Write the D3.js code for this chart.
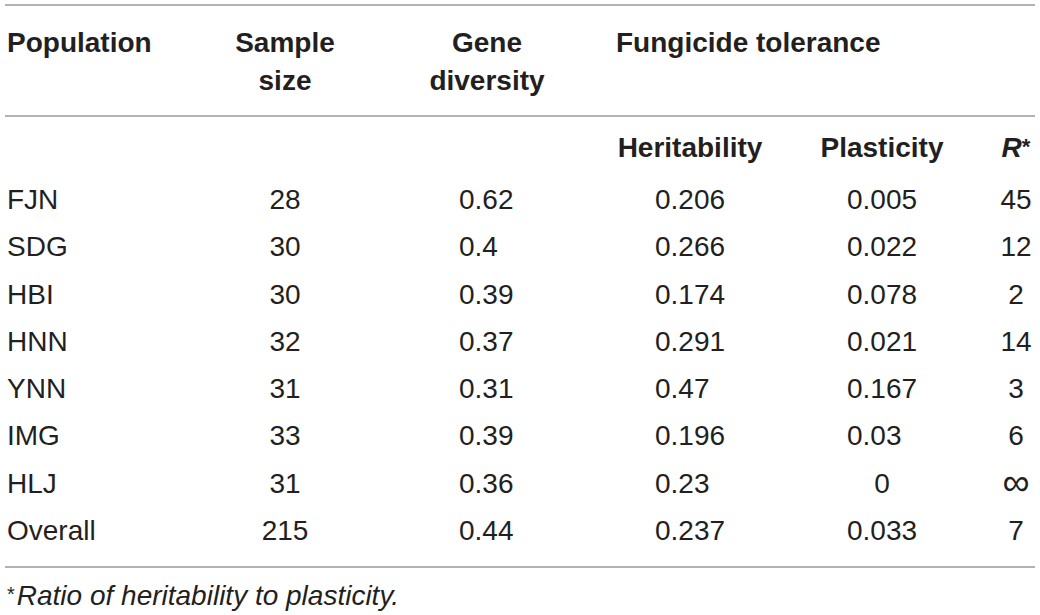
<!DOCTYPE html>
<html>
<head>
<meta charset="utf-8">
<script src="https://cdn.jsdelivr.net/npm/d3@7"></script>
<style>
  body { margin: 0; background: #fff; }
  svg { display: block; font-family: "Liberation Sans", Arial, Helvetica, sans-serif; }
</style>
</head>
<body>
<svg width="1040" height="615"></svg>
<script>
// table data
var populations = ["FJN", "SDG", "HBI", "HNN", "YNN", "IMG", "HLJ", "Overall"];
var sampleSize = [28, 30, 30, 32, 31, 33, 31, 215];
var geneDiversity = [0.62, 0.4, 0.39, 0.37, 0.31, 0.39, 0.36, 0.44];
var heritability = [0.206, 0.266, 0.174, 0.291, 0.47, 0.196, 0.23, 0.237];
var plasticity = [0.005, 0.022, 0.078, 0.021, 0.167, 0.03, 0, 0.033];
var ratio = [45, 12, 2, 14, 3, 6, Infinity, 7];

var svg = d3.select("svg"),
	width = +svg.attr("width");

var textColor = "#231f20",
	ruleColor = "#9a9a9a",
	fontSize = 28;

// rows
var y = d3.scalePoint()
	.domain(populations)
	.range([209, 540]);

// column centres / decimal anchors
var colCenter = {pop: 7, size: 285, gene: 487, her: 690, pla: 882, r: 1016};
var colLeft = {gene: 459, her: 655, pla: 847};

function fmt(v) {
	if (v === Infinity) return "\u221e";
	return String(v);
}

// rules
[5, 116, 567].forEach(function(ly) {
	svg.append("line")
		.attr("x1", 5).attr("x2", 1035)
		.attr("y1", ly).attr("y2", ly)
		.attr("stroke", ruleColor)
		.attr("stroke-width", 1.6);
});

// header
var head = svg.append("g")
	.attr("font-weight", "bold")
	.attr("font-size", fontSize)
	.attr("fill", textColor);

head.append("text").attr("x", colCenter.pop).attr("y", 52).text("Population");

var twoLine = [
	{x: colCenter.size, lines: ["Sample", "size"]},
	{x: colCenter.gene, lines: ["Gene", "diversity"]}
];
twoLine.forEach(function(h) {
	h.lines.forEach(function(t, i) {
		head.append("text")
			.attr("x", h.x)
			.attr("y", 52 + i * 38)
			.attr("text-anchor", "middle")
			.text(t);
	});
});

head.append("text").attr("x", 616).attr("y", 52).text("Fungicide tolerance");

head.append("text").attr("x", colCenter.her).attr("y", 157)
	.attr("text-anchor", "middle").text("Heritability");
head.append("text").attr("x", colCenter.pla).attr("y", 157)
	.attr("text-anchor", "middle").text("Plasticity");
var rh = head.append("text").attr("x", colCenter.r).attr("y", 157)
	.attr("text-anchor", "middle");
rh.append("tspan").attr("font-style", "italic").text("R");
rh.append("tspan").attr("font-size", 22).attr("dy", -3).text("*");

// body
var body = svg.append("g")
	.attr("font-size", fontSize)
	.attr("fill", textColor);

var rows = body.selectAll("g.row")
	.data(populations.map(function(p, i) {
		return {
			pop: p,
			size: sampleSize[i],
			gene: geneDiversity[i],
			her: heritability[i],
			pla: plasticity[i],
			r: ratio[i]
		};
	}))
	.enter().append("g")
	.attr("class", "row")
	.attr("transform", function(d) { return "translate(0," + y(d.pop) + ")"; });

rows.append("text")
	.attr("x", colCenter.pop)
	.text(function(d) { return d.pop; });

rows.append("text")
	.attr("x", colCenter.size)
	.attr("text-anchor", "middle")
	.text(function(d) { return fmt(d.size); });

["gene", "her", "pla"].forEach(function(key) {
	rows.append("text")
		.attr("x", function(d) {
			return fmt(d[key]).indexOf(".") >= 0 ? colLeft[key] : colCenter[key];
		})
		.attr("text-anchor", function(d) {
			return fmt(d[key]).indexOf(".") >= 0 ? "start" : "middle";
		})
		.text(function(d) { return fmt(d[key]); });
});

rows.append("text")
	.attr("x", colCenter.r)
	.attr("text-anchor", "middle")
	.attr("font-size", function(d) { return d.r === Infinity ? 38 : null; })
	.attr("dy", function(d) { return d.r === Infinity ? 2 : null; })
	.text(function(d) { return fmt(d.r); });

// footnote
var foot = svg.append("text")
	.attr("x", 7)
	.attr("y", 605)
	.attr("font-size", fontSize)
	.attr("fill", textColor);
foot.append("tspan").attr("font-size", 20).attr("dy", -4).text("*");
foot.append("tspan").attr("dy", 4).attr("dx", 2)
	.attr("font-style", "italic").text("Ratio of heritability to plasticity.");
</script>
</body>
</html>
